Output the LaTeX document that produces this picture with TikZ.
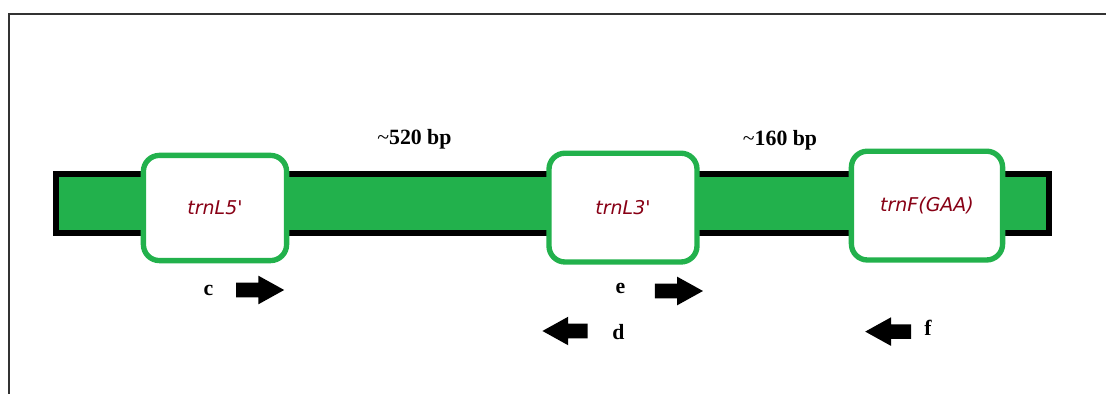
\documentclass[tikz,border=0pt]{standalone}
\usepackage{fontspec}
\setmainfont{Liberation Serif}
\newfontfamily\genefont{DejaVu Sans}
\usetikzlibrary{shapes.arrows}
\definecolor{paintgreen}{HTML}{22B14C}
\definecolor{paintred}{HTML}{880015}

\begin{document}
\begin{tikzpicture}[
  x=1cm,
  y=1cm,
  frame/.style={draw=black!80, line width=1pt},
  bar/.style={
    draw=black,
    fill=paintgreen,
    line width=4.3pt,
    minimum width=24.82cm,
    minimum height=1.47cm,
    inner sep=0pt,
    outer sep=0pt
  },
  gene/.style={
    draw=paintgreen,
    fill=white,
    line width=3.8pt,
    rounded corners=0.4cm,
    minimum width=3.7cm,
    minimum height=2.72cm,
    inner sep=0pt,
    text=paintred,
    font=\genefont\itshape\fontsize{13.5}{16}\selectfont
  },
  bp/.style={font=\bfseries\fontsize{15.5}{18}\selectfont, inner sep=0pt},
  lbl/.style={font=\bfseries\fontsize{15.5}{18}\selectfont, inner sep=0pt},
  primer/.style={
    single arrow,
    fill=black,
    draw=none,
    inner xsep=0pt,
    inner ysep=0.175cm,
    minimum height=1.2cm,
    single arrow head extend=0.175cm,
    single arrow tip angle=58
  }
]
\useasboundingbox (0,0) rectangle (27.65,9.85);
\draw[frame] (0.225,0) -- (0.225,9.5) -- (27.65,9.5);

% chloroplast region
\node[bar] (region) at (13.81,4.76) {};

\node[gene, minimum width=3.58cm, minimum height=2.63cm] (trnL5) at (5.375,4.65)  {trnL5'};
\node[gene] (trnL3) at (15.575,4.66) {trnL3'};
\node[gene, minimum width=3.78cm] (trnF)  at (23.175,4.71) {trnF(GAA)};

% spacer lengths
\node[bp] (len1) at (10.36,6.37) {{\mdseries\textasciitilde}520 bp};
\node[bp] (len2) at (19.50,6.35) {{\mdseries\textasciitilde}160 bp};

% primers
\node[primer] (pc) at (6.34,2.60) {};
\node[lbl] (lc) at (5.21,2.59) {c};
\node[primer] (pe) at (16.81,2.575) {};
\node[lbl] (le) at (15.51,2.64) {e};
\node[primer, shape border rotate=180, minimum height=1.13cm] (pd) at (14.29,1.575) {};
\node[lbl] (ld) at (15.46,1.54) {d};
\node[primer, shape border rotate=180, minimum height=1.15cm] (pf) at (22.37,1.56) {};
\node[lbl] (lf) at (23.20,1.66) {f};
\end{tikzpicture}
\end{document}
